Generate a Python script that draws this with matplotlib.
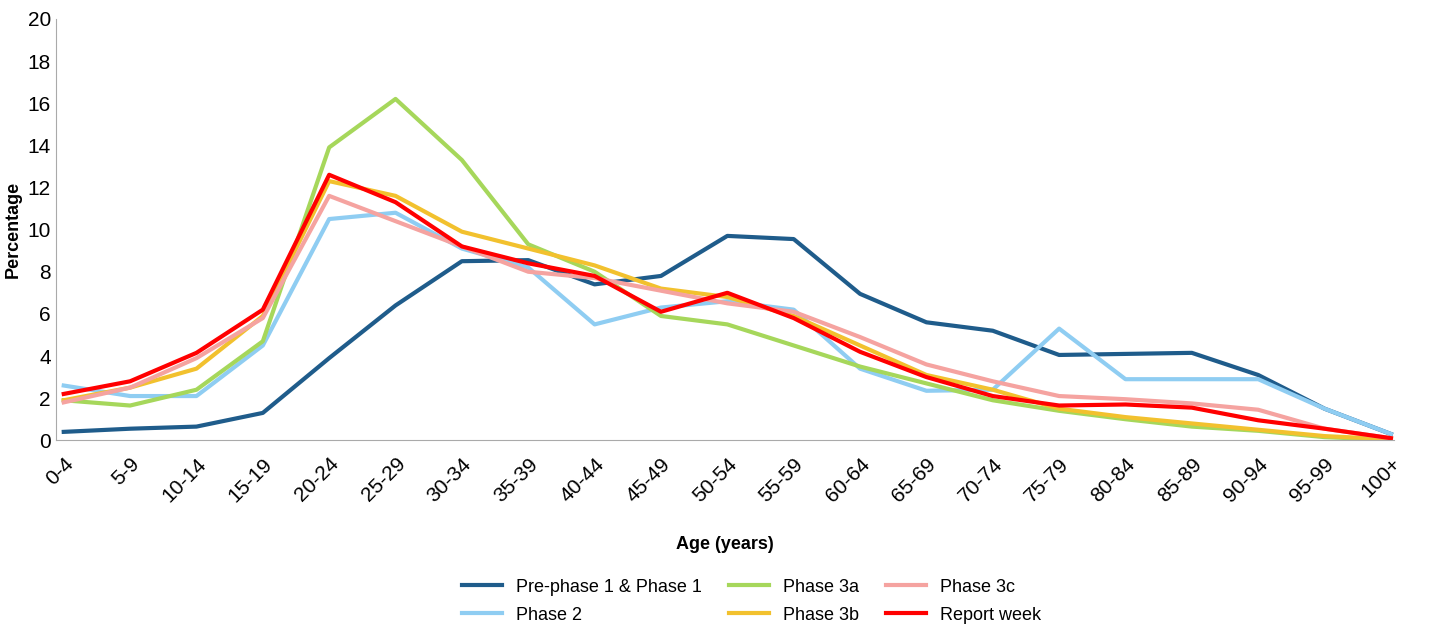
import matplotlib.pyplot as plt
import matplotlib.transforms as mtransforms
import numpy as np

plt.rcParams['font.family'] = ['Liberation Sans', 'DejaVu Sans']

ages = ['0-4', '5-9', '10-14', '15-19', '20-24', '25-29', '30-34', '35-39', '40-44', '45-49',
        '50-54', '55-59', '60-64', '65-69', '70-74', '75-79', '80-84', '85-89', '90-94', '95-99', '100+']

pre_phase1 = [0.4, 0.55, 0.65, 1.3, 3.9, 6.4, 8.5, 8.55, 7.4, 7.8, 9.7, 9.55, 6.95, 5.6, 5.2, 4.05, 4.1, 4.15, 3.1, 1.5, 0.3]
phase2 = [2.6, 2.1, 2.1, 4.5, 10.5, 10.8, 9.1, 8.2, 5.5, 6.3, 6.6, 6.2, 3.4, 2.35, 2.4, 5.3, 2.9, 2.9, 2.9, 1.5, 0.3]
phase3a = [1.9, 1.65, 2.4, 4.7, 13.9, 16.2, 13.3, 9.3, 8.0, 5.9, 5.5, 4.5, 3.5, 2.7, 1.9, 1.4, 1.0, 0.65, 0.45, 0.15, 0.02]
phase3b = [1.9, 2.5, 3.4, 5.9, 12.3, 11.6, 9.9, 9.1, 8.3, 7.2, 6.8, 5.9, 4.5, 3.1, 2.4, 1.5, 1.1, 0.8, 0.5, 0.2, 0.05]
phase3c = [1.8, 2.5, 3.9, 5.8, 11.6, 10.4, 9.2, 8.0, 7.7, 7.1, 6.5, 6.1, 4.9, 3.6, 2.8, 2.1, 1.95, 1.75, 1.45, 0.55, 0.1]
report_week = [2.2, 2.8, 4.15, 6.2, 12.6, 11.3, 9.2, 8.4, 7.8, 6.1, 7.0, 5.8, 4.2, 3.0, 2.1, 1.65, 1.7, 1.55, 0.95, 0.55, 0.1]

series = [
    ('Pre-phase 1 & Phase 1', pre_phase1, '#1f5c8b'),
    ('Phase 2', phase2, '#8fcdf2'),
    ('Phase 3a', phase3a, '#a6d75b'),
    ('Phase 3b', phase3b, '#f2c12e'),
    ('Phase 3c', phase3c, '#f5a3a0'),
    ('Report week', report_week, '#ff0000'),
]

fig = plt.figure(figsize=(14.3, 6.29), dpi=100)
ax = fig.add_axes([0.039, 0.30, 0.936, 0.67])
x = np.arange(len(ages))
for name, vals, col in series:
    ax.plot(x, vals, color=col, lw=3, label=name)

ax.set_yticks(range(0, 21, 2))
ax.set_xticks(x)
ax.set_xticklabels(ages, rotation=45, fontsize=15, ha='right', rotation_mode='anchor')
shift = mtransforms.ScaledTranslation(0.1, 0, fig.dpi_scale_trans)
for lab in ax.get_xticklabels():
    lab.set_transform(lab.get_transform() + shift)
ax.set_xlim(-0.12, 20.05)
ax.set_ylim(0, 20)
ax.tick_params(axis='y', labelsize=15, length=0)
ax.tick_params(axis='x', length=0, pad=10)
for s in ['top', 'right']:
    ax.spines[s].set_visible(False)
for s in ['left', 'bottom']:
    ax.spines[s].set_color('#aaaaaa')
ax.set_ylabel('Percentage', fontsize=13, fontweight='bold')
ax.set_xlabel('Age (years)', fontsize=13, fontweight='bold', labelpad=22)
ax.legend(ncol=3, loc='upper center', bbox_to_anchor=(0.52, -0.29), frameon=False,
          fontsize=13, handlelength=2.2, columnspacing=1.5, labelspacing=0.6)

fig.savefig('out.png')
